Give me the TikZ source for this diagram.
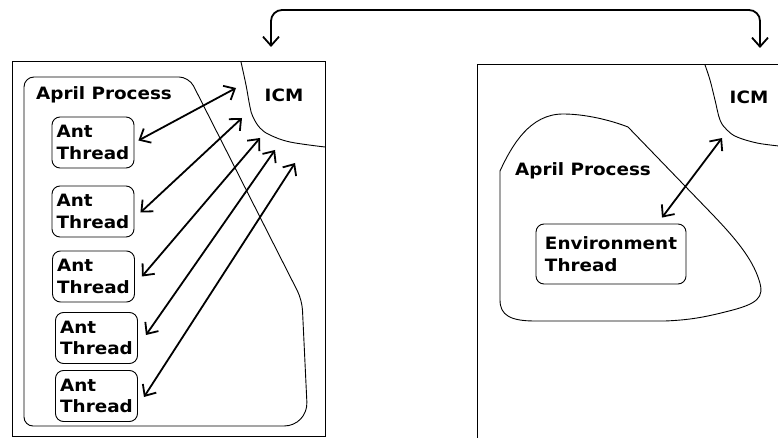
\documentclass[tikz,border=0pt]{standalone}
\usepackage{fontspec}
\newfontfamily\lblfont{DejaVu Sans}[FakeStretch=1.08]
\usetikzlibrary{arrows.meta}
\begin{document}
\begin{tikzpicture}[x=1pt,y=-1pt,
  outline/.style={line width=1pt},
  region/.style={line width=0.9pt},
  label/.style={inner sep=0pt,font=\lblfont\bfseries\fontsize{17pt}{21.7pt}\selectfont},
  thread/.style={draw,line width=0.9pt,rounded corners=8pt,minimum width=82pt,
    minimum height=51pt,inner xsep=3pt,inner ysep=0pt,align=left,
    font=\lblfont\bfseries\fontsize{17pt}{21.7pt}\selectfont},
  link/.style={line width=1.8pt,line join=round,
    {Straight Barb[length=9pt,width=16pt]}-{Straight Barb[length=9pt,width=16pt]}}]
\useasboundingbox (0,0) rectangle (778,438);

% machine outlines
\draw[outline] (12,62) rectangle (325,436.5);
\draw[outline] (779,65) -- (477,65) -- (477,440);

% ICM borders
\draw[region] plot[smooth,tension=0.6] coordinates
  {(241,62) (246,85) (250,107) (253,117) (260,128) (270,135) (290,142) (325,147)};
\draw[region] plot[smooth,tension=0.6] coordinates
  {(705,65) (710,80) (715,100) (720,120) (727,130) (737,137) (757,143) (779,146)};

% April process regions
\draw[region,rounded corners=10pt] (24,250) -- (24,77) -- (189,77) -- (302,300)
  [rounded corners=24pt] -- (308,426) [rounded corners=9pt] -- (24,426) -- cycle;
\draw[region] (500,300) -- (500,171)
  .. controls (512,145) and (530,114) .. (563,114)
  .. controls (585,114) and (610,120) .. (628,127)
  -- (712,214)
  .. controls (735,238) and (752,258) .. (759,280)
  .. controls (765,298) and (758,304) .. (725,312)
  .. controls (705,317) and (690,320) .. (665,321)
  -- (535,321)
  .. controls (510,321) and (500,315) .. (500,300);

% labels
\node[label,anchor=base west] (ap1) at (36,100) {April Process};
\node[label,anchor=base] (icm1) at (284,102) {ICM};
\node[label,anchor=base west] (ap2) at (515,176) {April Process};
\node[label,anchor=base] (icm2) at (749,104) {ICM};

% threads
\node[thread] (t1) at (93,142.5) {Ant\\Thread};
\node[thread] (t2) at (93,211.5) {Ant\\Thread};
\node[thread] (t3) at (93.5,276.5) {Ant\\Thread};
\node[thread] (t4) at (96.5,338) {Ant\\Thread};
\node[thread] (t5) at (96.5,396) {Ant\\Thread};
\node[thread,minimum width=150pt,minimum height=60pt] (env) at (611,254)
  {Environment\\Thread};

% connector ends inside the ICM
\coordinate (c1) at (236,88);
\coordinate (c2) at (242,118);
\coordinate (c3) at (260,138);
\coordinate (c4) at (275,150);
\coordinate (c5) at (295,163);
\coordinate (c6) at (722,138);

\draw[link] ([xshift=4pt,yshift=2pt]t1.east) -- (c1);
\draw[link] ([xshift=6pt,yshift=-1pt]t2.east) -- (c2);
\draw[link] ([xshift=7pt]t3.east) -- (c3);
\draw[link] ([xshift=8pt,yshift=3pt]t4.east) -- (c4);
\draw[link] ([xshift=6pt,yshift=-1pt]t5.east) -- (c5);
\draw[link] ([xshift=51pt,yshift=6pt]env.north) -- (c6);

% link between the two machines
\coordinate (ta) at (271,47);
\coordinate (tm) at (515,10);
\coordinate (tb) at (760,48);
\draw[link,rounded corners=11pt] (ta) |- (tm) -| (tb);
\end{tikzpicture}
\end{document}
